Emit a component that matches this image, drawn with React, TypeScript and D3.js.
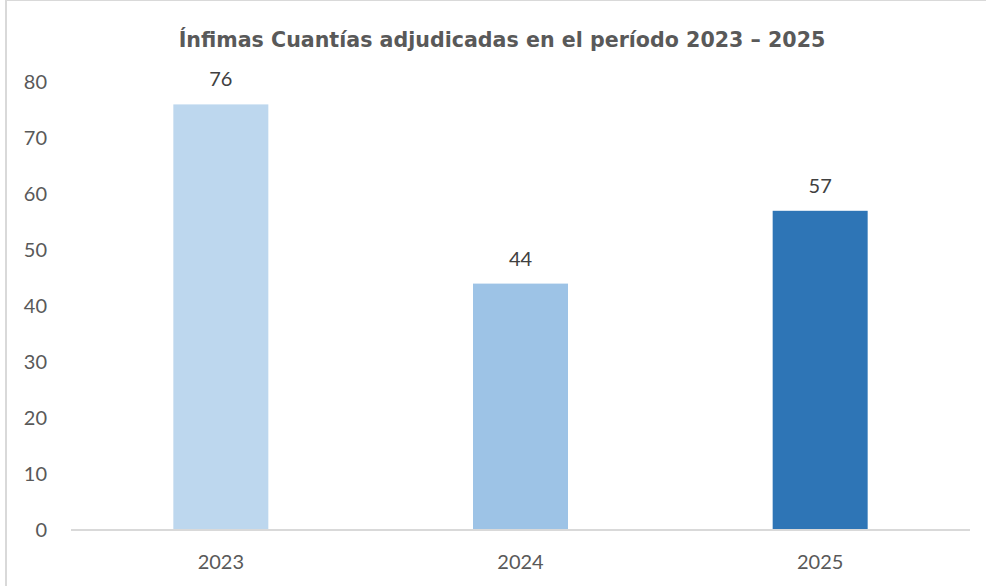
import React from "react";
import * as d3 from "d3";

const categories = ["2023", "2024", "2025"];
const values = [76, 44, 57];
const barColors = ["#BDD7EE", "#9DC3E6", "#2E75B6"];
const yTicks = [0, 10, 20, 30, 40, 50, 60, 70, 80];
const title = "Ínfimas Cuantías adjudicadas en el período 2023 – 2025";

export default function App() {
  const W = 986, H = 586;
  const x = d3.scaleBand<string>().domain(categories).range([71, 970]).paddingInner(0.683).paddingOuter(0.3415);
  const y = d3.scaleLinear().domain([0, 80]).range([530, 82]);
  const font = "Lato, 'Open Sans', sans-serif";
  return (
    <div style={{ position: "fixed", left: 0, top: 0 }}>
      <svg width={W} height={H} style={{ display: "block", background: "#fff" }}>
        <rect x={6} y={0} width={W + 10} height={H + 10} fill="#fff" stroke="#D9D9D9" strokeWidth={2} />
        <text x={502} y={47} textAnchor="middle" fontFamily="'DejaVu Sans', sans-serif" fontWeight="bold" fontSize={20.6} fill="#595959">{title}</text>
        {yTicks.map((t) => (
          <text key={t} x={47} y={y(t)} dy="0.35em" textAnchor="end" fontFamily={font} fontSize={20} fill="#595959">{t}</text>
        ))}
        {categories.map((c, i) => (
          <g key={c}>
            <rect x={x(c)!} y={y(values[i])} width={x.bandwidth()} height={y(0) - y(values[i])} fill={barColors[i]} />
            <text x={x(c)! + x.bandwidth() / 2} y={y(values[i]) - 18} textAnchor="middle" fontFamily={font} fontSize={20} fill="#404040">{values[i]}</text>
            <text x={x(c)! + x.bandwidth() / 2} y={y(0) + 39} textAnchor="middle" fontFamily={font} fontSize={20} fill="#595959">{c}</text>
          </g>
        ))}
        <line x1={71} x2={970} y1={y(0)} y2={y(0)} stroke="#D9D9D9" strokeWidth={2} />
      </svg>
    </div>
  );
}
